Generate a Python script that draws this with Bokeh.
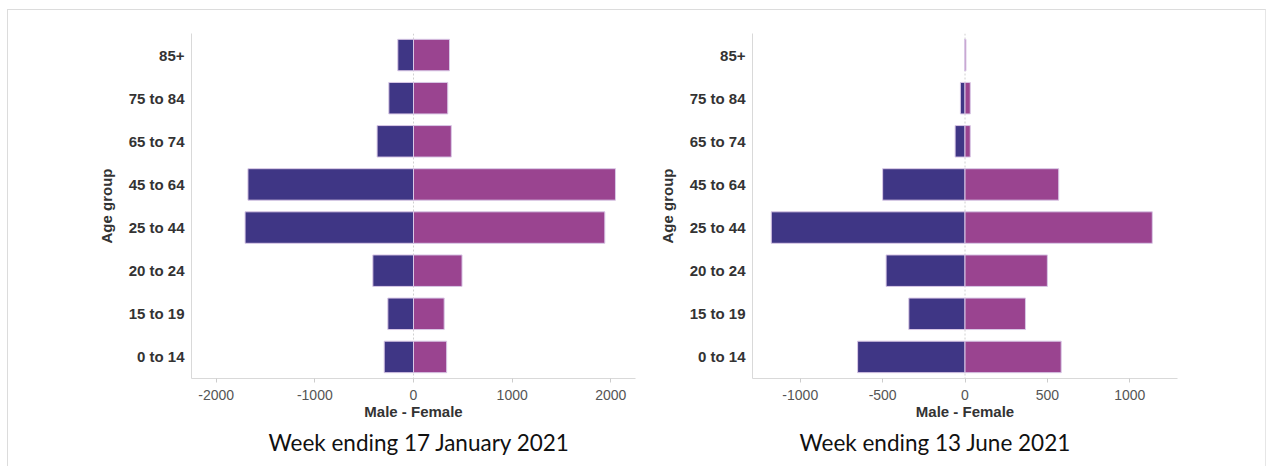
from bokeh.plotting import figure
from bokeh.layouts import row
from bokeh.models import FactorRange, Range1d, FixedTicker, Span, Title
from bokeh.embed import file_html
from bokeh.resources import INLINE

age_groups = ["0 to 14", "15 to 19", "20 to 24", "25 to 44", "45 to 64", "65 to 74", "75 to 84", "85+"]

# Week ending 17 January 2021 (male plotted as negative)
male_jan = [-297, -260, -412, -1707, -1678, -369, -250, -159]
female_jan = [336, 311, 492, 1939, 2047, 383, 347, 365]

# Week ending 13 June 2021
male_jun = [-652, -341, -479, -1176, -500, -60, -28, -3]
female_jun = [584, 367, 500, 1137, 569, 32, 32, 6]

ticks_jan = [-2000, -1000, 0, 1000, 2000]
ticks_jun = [-1000, -500, 0, 500, 1000]

titles = ["Week ending 17 January 2021", "Week ending 13 June 2021"]

MALE = "#3f3685"
FEMALE = "#9a4490"
EDGE = "#d9c8e6"
AXIS = "#d9d9d9"


def make_panel(male, female, ticks, xmax, title, title_offset, width, mb):
    p = figure(width=width, height=456, y_range=FactorRange(*age_groups, range_padding=0),
               x_range=Range1d(-xmax, xmax), output_backend="svg", toolbar_location=None,
               min_border_left=mb[0], min_border_top=mb[1], min_border_right=mb[2],
               min_border_bottom=mb[3])
    p.outline_line_color = None
    p.xgrid.visible = False
    p.ygrid.visible = False
    zero = Span(location=0, dimension="height", line_color="#d0d0d0", line_dash="2 2",
                line_width=1, level="underlay")
    p.add_layout(zero)
    p.hbar(y=age_groups, left=male, right=0, height=0.73, fill_color=MALE,
           line_color=EDGE, line_width=1)
    p.hbar(y=age_groups, left=0, right=female, height=0.73, fill_color=FEMALE,
           line_color=EDGE, line_width=1)

    xa = p.xaxis[0]
    xa.ticker = FixedTicker(ticks=ticks)
    xa.major_label_overrides = {t: str(t) for t in ticks}
    xa.minor_tick_line_color = None
    xa.major_tick_in = 0
    xa.major_tick_out = 4
    xa.major_tick_line_color = "#cccccc"
    xa.axis_line_color = AXIS
    xa.major_label_text_font = "Liberation Sans"
    xa.major_label_text_font_size = "14px"
    xa.major_label_text_color = "#555555"
    xa.major_label_standoff = 7
    xa.axis_label = "Male - Female"
    xa.axis_label_text_font = "Liberation Sans"
    xa.axis_label_text_font_style = "bold"
    xa.axis_label_text_font_size = "15px"
    xa.axis_label_text_color = "#333333"
    xa.axis_label_standoff = 0

    ya = p.yaxis[0]
    ya.major_tick_in = 0
    ya.major_tick_out = 0
    ya.minor_tick_line_color = None
    ya.axis_line_color = AXIS
    ya.major_label_text_font = "Liberation Sans"
    ya.major_label_text_font_style = "bold"
    ya.major_label_text_font_size = "15px"
    ya.major_label_text_color = "#333333"
    ya.major_label_standoff = 7
    ya.axis_label = "Age group"
    ya.axis_label_text_font = "Liberation Sans"
    ya.axis_label_text_font_style = "bold"
    ya.axis_label_text_font_size = "15px"
    ya.axis_label_text_color = "#333333"
    ya.axis_label_standoff = 11

    t = Title(text=title, align="left", offset=title_offset, text_font="Lato",
              text_font_size="22.5px", text_font_style="normal", text_color="#111111",
              standoff=9)
    p.add_layout(t, "below")
    return p


p1 = make_panel(male_jan, female_jan, ticks_jan, 2250, titles[0], 77, 647, (183, 17, 20, 87))
p2 = make_panel(male_jun, female_jun, ticks_jun, 1290, titles[1], 47, 610, (93, 23, 88, 88))

layout = row(p1, p2, styles={"margin-left": "7px", "margin-top": "9px",
                             "border-top": "1px solid #dcdcdc",
                             "border-left": "1px solid #dcdcdc",
                             "border-right": "1px solid #e6e6e6"})

open("out.html", "w").write(file_html(layout, INLINE))
